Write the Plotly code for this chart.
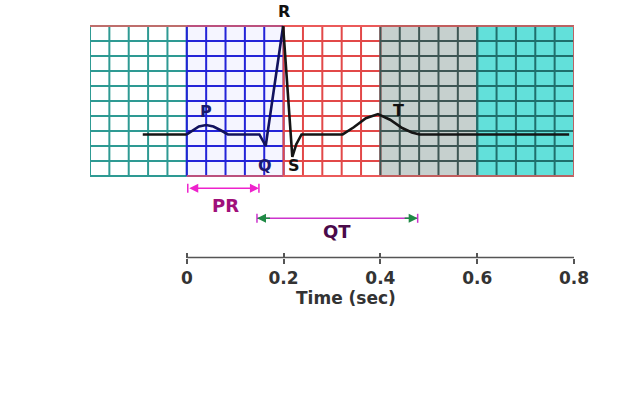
import numpy as np
import plotly.graph_objects as go

# ECG trace (time in sec, amplitude in grid squares)
ecg_t = [-0.091, 0.0, 0.012, 0.025, 0.040, 0.055, 0.070, 0.085, 0.150, 0.163, 0.199,
         0.218, 0.226, 0.237, 0.322, 0.345, 0.370, 0.395, 0.420, 0.445, 0.465, 0.481, 0.790]
ecg_v = [2.77, 2.77, 3.05, 3.30, 3.40, 3.30, 3.05, 2.77, 2.77, 2.0, 10.0,
         1.27, 2.1, 2.77, 2.77, 3.25, 3.85, 4.13, 3.75, 3.2, 2.9, 2.77, 2.77]

# Wave labels
wave_names = ["P", "Q", "R", "S", "T"]
wave_t = [0.040, 0.161, 0.200, 0.221, 0.437]
wave_v = [4.3, 0.73, 11.0, 0.73, 4.4]
wave_colors = ["#1a1a6e", "#1a1a6e", "#111111", "#111111", "#111111"]

# Grid blocks
block_start = [-0.2, 0.0, 0.2, 0.4, 0.6]
block_fill = ["#ffffff", "#f5f5ff", "#ffffff", "#c6d0ce", "#62e0da"]
block_line = ["#2e9a93", "#2323d8", "#e24848", "#3e5654", "#1f6f6c"]
block_width = 0.2
n_cols = 5
n_rows = 10

# Intervals
pr_interval = [0.002, 0.149]
qt_interval = [0.145, 0.477]

tick_vals = [0, 0.2, 0.4, 0.6, 0.8]
tick_text = ["0", "0.2", "0.4", "0.6", "0.8"]
axis_title = "Time (sec)"

FONT = "DejaVu Sans, Arial"

fig = go.Figure()
shapes = []
for b0, fc in zip(block_start, block_fill):
    shapes.append(dict(type="rect", xref="x", yref="y", x0=b0, x1=b0 + block_width,
                       y0=0, y1=n_rows, fillcolor=fc, line=dict(width=0), layer="below"))

for b0, lc in zip(block_start, block_line):
    xs, ys = [], []
    for i in range(n_cols + 1):
        x = b0 + i * block_width / n_cols
        xs += [x, x, None]
        ys += [0, n_rows, None]
    for j in range(n_rows + 1):
        xs += [b0, b0 + block_width, None]
        ys += [j, j, None]
    fig.add_trace(go.Scatter(x=xs, y=ys, mode="lines", line=dict(color=lc, width=2),
                             hoverinfo="skip", showlegend=False))

# red outer border
fig.add_trace(go.Scatter(x=[-0.2, 0.8, 0.8, 0.0], y=[n_rows, n_rows, 0, 0], mode="lines",
                         line=dict(color="#ee6060", width=1.5), hoverinfo="skip", showlegend=False))

t = np.array(ecg_t)
v = np.array(ecg_v)
seg_masks = [(t <= 0.0), (t >= 0.0) & (t <= 0.2), (t >= 0.199)]
seg_colors = ["#151515", "#12125e", "#151515"]
for m, c in zip(seg_masks, seg_colors):
    fig.add_trace(go.Scatter(x=t[m], y=v[m], mode="lines", line=dict(color=c, width=2.6),
                             hoverinfo="skip", showlegend=False))

annotations = []
for name, wt, wv, wc in zip(wave_names, wave_t, wave_v, wave_colors):
    annotations.append(dict(x=wt, y=wv, xref="x", yref="y", text="<b>%s</b>" % name,
                            showarrow=False, font=dict(family=FONT, size=16, color=wc)))

# PR arrow
pr_y = -0.82
annotations.append(dict(x=pr_interval[1], y=pr_y, ax=pr_interval[0], ay=pr_y, xref="x", yref="y",
                        axref="x", ayref="y", text="", showarrow=True, arrowhead=2, arrowside="end+start",
                        arrowsize=1.2, arrowwidth=1.5, arrowcolor="#ee22cc"))
for xe in pr_interval:
    shapes.append(dict(type="line", xref="x", yref="y", x0=xe, x1=xe, y0=pr_y - 0.3, y1=pr_y + 0.3,
                       line=dict(color="#ee22cc", width=1.5)))
annotations.append(dict(x=sum(pr_interval) / 2 + 0.005, y=-1.98, xref="x", yref="y", text="<b>PR</b>",
                        showarrow=False, font=dict(family=FONT, size=18, color="#a0107a")))

# QT arrow
qt_y = -2.82
shapes.append(dict(type="line", xref="x", yref="y", x0=qt_interval[0], x1=qt_interval[1], y0=qt_y, y1=qt_y,
                   line=dict(color="#cc33cc", width=1.5)))
for xe in qt_interval:
    shapes.append(dict(type="line", xref="x", yref="y", x0=xe, x1=xe, y0=qt_y - 0.3, y1=qt_y + 0.3,
                       line=dict(color="#cc33cc", width=1.5)))
annotations.append(dict(x=qt_interval[0], y=qt_y, ax=qt_interval[0] + 0.03, ay=qt_y, xref="x", yref="y",
                        axref="x", ayref="y", text="", showarrow=True, arrowhead=2, arrowsize=1.2,
                        arrowwidth=1.5, arrowcolor="#1f8a45"))
annotations.append(dict(x=qt_interval[1], y=qt_y, ax=qt_interval[1] - 0.03, ay=qt_y, xref="x", yref="y",
                        axref="x", ayref="y", text="", showarrow=True, arrowhead=2, arrowsize=1.2,
                        arrowwidth=1.5, arrowcolor="#1f8a45"))
annotations.append(dict(x=(qt_interval[0] + qt_interval[1]) / 2, y=-3.71, xref="x", yref="y",
                        text="<b>QT</b>", showarrow=False,
                        font=dict(family=FONT, size=18, color="#4a0a4a")))

# bottom axis line (0 to 0.8)
axis_y = -5.43
shapes.append(dict(type="line", xref="x", yref="y", x0=tick_vals[0], x1=tick_vals[-1], y0=axis_y, y1=axis_y,
                   line=dict(color="#555555", width=1.5)))

# axis title (sits left of the axis centre in the reference)
annotations.append(dict(x=0.328, y=-8.13, xref="x", yref="y", text="<b>%s</b>" % axis_title,
                        showarrow=False, font=dict(family=FONT, size=17, color="#333333")))

fig.add_trace(go.Scatter(x=[0], y=[axis_y], xaxis="x2", mode="markers", marker=dict(opacity=0),
                         hoverinfo="skip", showlegend=False))

axis_pos = (400 - 257.5) / 400
fig.update_layout(
    width=640, height=400,
    margin=dict(l=90, r=66, t=0, b=0),
    paper_bgcolor="white", plot_bgcolor="rgba(0,0,0,0)",
    showlegend=False,
    shapes=shapes, annotations=annotations,
    xaxis=dict(range=[-0.2, 0.8], anchor="free", position=axis_pos, showgrid=False, zeroline=False,
               showline=False, tickmode="array", tickvals=tick_vals, ticktext=tick_text,
               ticks="outside", ticklen=5, tickwidth=1.5, tickcolor="#555555",
               tickfont=dict(family=FONT, size=17, color="#333333", weight="bold"),
               ticklabelstandoff=0, fixedrange=True),
    xaxis2=dict(overlaying="x", matches="x", anchor="free", position=axis_pos, showgrid=False,
                zeroline=False, showline=False, tickmode="array", tickvals=tick_vals,
                ticks="inside", ticklen=5, tickwidth=1.5, tickcolor="#555555", showticklabels=False),
    yaxis=dict(range=[-(400 - 176) / 15, 176 / 15], visible=False, showgrid=False, zeroline=False,
               fixedrange=True),
)

fig.write_html("out.html", config={"displayModeBar": False},
               post_script="document.body.style.margin='0';")
